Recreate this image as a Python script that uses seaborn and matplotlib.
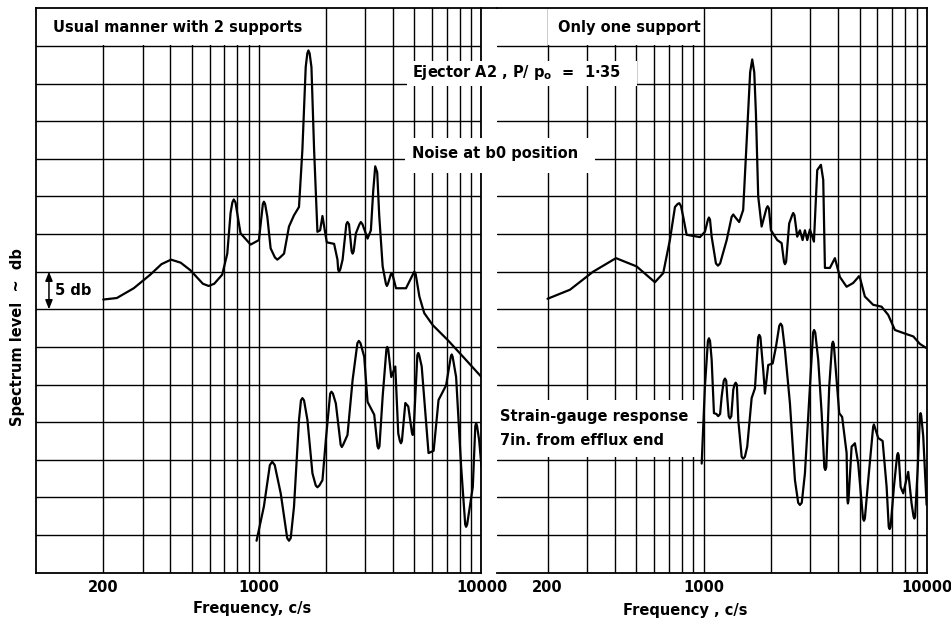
import matplotlib
matplotlib.use("Agg")
import matplotlib.pyplot as plt
from matplotlib.patches import Rectangle
from matplotlib.lines import Line2D
from matplotlib.ticker import NullFormatter
import pandas as pd
import seaborn as sns

# ---------------------------------------------------------------- data
# Usual manner with 2 supports: noise spectrum at b0 position
noise_two_freq = [200, 230, 274, 325, 365, 403, 445, 492, 560, 595, 630, 684, 721, 746,
                  760, 771, 785, 804, 827, 918, 1000, 1042, 1053, 1066, 1091, 1129, 1180,
                  1210, 1245, 1297, 1365, 1438, 1514, 1568, 1623, 1650, 1669, 1690, 1722,
                  1770, 1832, 1884, 1930, 1977, 2018, 2177, 2254, 2270, 2291, 2320, 2377,
                  2470, 2500, 2540, 2610, 2636, 2665, 2727, 2830, 2871, 2920, 3077, 3185,
                  3262, 3331, 3400, 3471, 3597, 3720, 3758, 3800, 3910, 3945, 3985, 4130,
                  4580, 4930, 4990, 5060, 5260, 5530, 6040, 7060, 8380, 10000]
noise_two_db = [36.3, 36.5, 37.8, 39.6, 41.0, 41.6, 41.2, 40.2, 38.4, 38.1, 38.4, 39.6, 42.4, 47.8,
                49.2, 49.6, 49.2, 47.3, 45.1, 43.6, 44.2, 49.0, 49.3, 49.0, 47.3, 43.1, 41.9,
                41.6, 41.9, 42.4, 46.0, 47.5, 48.6, 56.2, 67.2, 69.0, 69.4, 69.0, 67.2,
                56.2, 45.3, 45.5, 47.4, 45.5, 43.9, 43.7, 41.6, 40.3, 40.0, 40.3, 41.6,
                46.3, 46.6, 46.3, 42.7, 42.4, 42.7, 45.1, 46.3, 46.6, 46.3, 44.4, 45.5,
                50.7, 54.0, 53.2, 47.5, 40.7, 38.4, 38.1, 38.4, 39.6, 39.8, 39.6, 37.8,
                37.8, 39.7, 40.0, 39.7, 36.7, 34.5, 32.9, 30.9, 28.5, 26.0]

# Usual manner with 2 supports: strain-gauge response
strain_two_freq = [976, 1053, 1120, 1148, 1178, 1253, 1340, 1365, 1390, 1438, 1514, 1545,
                   1568, 1595, 1652, 1740, 1800, 1832, 1870, 1930, 1998, 2090, 2118, 2150,
                   2216, 2330, 2358, 2390, 2500, 2636, 2770, 2812, 2860, 2972, 3077, 3296,
                   3410, 3443, 3480, 3597, 3740, 3773, 3810, 3933, 4099, 4227, 4300, 4346,
                   4390, 4548, 4688, 4870, 4909, 4950, 5150, 5198, 5250, 5387, 5781, 6095,
                   6412, 6934, 7280, 7345, 7420, 7690, 8100, 8450, 8530, 8620, 9140, 9380,
                   9460, 9550, 9760, 10000]
strain_two_db = [4.25, 8.8, 14.3, 14.75, 14.3, 10.55, 4.6, 4.25, 4.6, 8.8, 20.3, 22.9,
                 23.2, 22.9, 20.3, 13.2, 11.6, 11.35, 11.6, 12.3, 17.6, 23.8, 24.05, 23.8,
                 22.5, 17.0, 16.7, 17.0, 18.3, 25.6, 30.5, 30.8, 30.5, 28.7, 22.7, 21.0,
                 16.8, 16.5, 16.8, 23.4, 29.7, 30.0, 29.7, 26.0, 27.4, 18.5, 17.5, 17.2,
                 17.5, 22.55, 22.1, 18.6, 18.3, 18.6, 28.9, 29.2, 28.9, 27.4, 15.9, 16.2,
                 22.95, 24.9, 28.7, 29.0, 28.7, 26.0, 14.1, 6.4, 6.1, 6.4, 11.4, 19.5,
                 19.85, 19.5, 17.6, 14.05]

# Only one support: noise spectrum at b0 position
noise_one_freq = [200, 252, 320, 405, 501, 605, 659, 706, 744, 765, 778, 792, 810, 839,
                  963, 1013, 1045, 1056, 1068, 1086, 1135, 1159, 1185, 1268, 1335, 1357,
                  1380, 1442, 1503, 1567, 1615, 1650, 1685, 1714, 1755, 1818, 1910, 1934,
                  1960, 2001, 2136, 2234, 2290, 2312, 2340, 2415, 2490, 2518, 2550, 2624,
                  2698, 2773, 2841, 2909, 2991, 3117, 3225, 3350, 3431, 3491, 3675, 3870,
                  4074, 4365, 4672, 4900, 4955, 5010, 5270, 5740, 6260, 6705, 7183, 8100,
                  8680, 9295, 10000]
noise_one_db = [36.4, 37.6, 40.0, 41.8, 40.7, 38.6, 39.8, 44.2, 48.6, 49.0, 49.1, 48.7, 47.3, 44.9,
                44.6, 45.3, 46.9, 47.2, 46.9, 44.65, 41.1, 40.8, 41.1, 44.2, 47.3, 47.6,
                47.3, 46.6, 48.2, 58.8, 66.5, 68.2, 66.5, 61.05, 50.0, 46.0, 48.4, 48.7,
                48.4, 45.5, 44.2, 43.8, 41.3, 41.0, 41.3, 46.4, 47.5, 47.8, 47.5, 44.65,
                45.5, 44.2, 45.5, 44.2, 45.6, 44.0, 53.5, 54.2, 52.2, 40.5, 40.5, 41.8,
                39.3, 38.0, 38.5, 39.2, 39.4, 39.2, 36.7, 35.6, 35.35, 34.25, 32.25, 31.7,
                31.4, 30.4, 29.8]

# Only one support: strain-gauge response 7 in. from efflux end
strain_one_freq = [980, 1013, 1045, 1056, 1068, 1086, 1112, 1140, 1162, 1185, 1204, 1230,
                   1246, 1262, 1275, 1295, 1311, 1330, 1357, 1375, 1391, 1408, 1429, 1480,
                   1504, 1530, 1567, 1640, 1697, 1755, 1774, 1795, 1849, 1881, 1946, 2037,
                   2107, 2180, 2212, 2245, 2312, 2434, 2563, 2650, 2698, 2750, 2841, 2991,
                   3090, 3123, 3160, 3258, 3375, 3470, 3503, 3540, 3649, 3760, 3792, 3825,
                   3938, 4046, 4169, 4366, 4405, 4425, 4450, 4597, 4756, 4920, 5170, 5219,
                   5270, 5456, 5740, 5786, 5830, 6047, 6329, 6595, 6740, 6803, 6870, 7110,
                   7350, 7410, 7470, 7620, 7826, 8240, 8530, 8700, 8780, 8850, 9080, 9300,
                   9360, 9420, 9620, 9960]
strain_one_db = [14.5, 24.7, 30.8, 31.15, 30.8, 28.3, 21.2, 21.1, 20.8, 21.1, 23.4, 25.5,
                 25.8, 25.5, 23.4, 20.8, 20.5, 20.8, 24.3, 25.0, 25.25, 25.0, 20.3, 15.4,
                 15.15, 15.4, 16.75, 23.2, 24.5, 31.3, 31.6, 31.3, 26.9, 23.8, 27.6, 27.8,
                 30.0, 32.8, 33.1, 32.8, 29.6, 22.5, 12.3, 9.3, 9.0, 9.3, 13.2, 24.7,
                 31.9, 32.25, 31.9, 28.3, 21.2, 14.0, 13.65, 14.0, 24.7, 30.4, 30.7, 30.4,
                 25.6, 21.2, 20.7, 15.9, 9.6, 9.2, 9.6, 16.75, 17.2, 14.5, 7.2, 6.9,
                 7.2, 12.3, 19.4, 19.7, 19.4, 17.9, 17.5, 11.4, 6.1, 5.8, 6.1, 11.4,
                 15.6, 15.9, 15.6, 11.4, 10.55, 13.4, 9.2, 7.5, 7.2, 7.5, 13.65, 20.9,
                 21.2, 20.9, 18.1, 9.0]

# axis furniture
tick_freqs = [200, 1000, 10000]
tick_labels = ["200", "1000", "10000"]
grid_freqs = [300, 400, 500, 600, 700, 800, 900,
              2000, 3000, 4000, 5000, 6000, 7000, 8000, 9000]
level_lines = list(range(5, 75, 5))

# ---------------------------------------------------------------- style
sns.set_theme(style="white")
plt.rcParams["font.family"] = ["DejaVu Sans"]
plt.rcParams["font.weight"] = "bold"
plt.rcParams["mathtext.fontset"] = "dejavusans"

W, H = 951, 623
INK = "black"
FS = 10.5

fig = plt.figure(figsize=(W / 100, H / 100), dpi=100)


def px_box(x0, y0, x1, y1):
    """Rectangle given in figure pixels (origin top-left) -> figure fraction."""
    return [x0 / W, 1 - y1 / H, (x1 - x0) / W, (y1 - y0) / H]


def px(x, y):
    return x / W, 1 - y / H


ax_l = fig.add_axes(px_box(36.3, 8.3, 481.5, 572.7))
ax_r = fig.add_axes(px_box(497.5, 8.3, 927.0, 572.7))


def style_panel(ax, xmin):
    ax.set_xscale("log")
    ax.set_xlim(xmin, 10000)
    ax.set_ylim(0, 75)
    ax.set_xticks(tick_freqs)
    ax.set_xticklabels(tick_labels)
    ax.set_xticks(grid_freqs, minor=True)
    ax.xaxis.set_minor_formatter(NullFormatter())
    ax.set_yticks(level_lines)
    ax.set_yticklabels([])
    ax.tick_params(which="both", length=0, labelsize=FS, pad=5, colors=INK)
    ax.grid(True, which="both", axis="both", color=INK, lw=1.0)
    ax.set_axisbelow(True)
    for s in ax.spines.values():
        s.set_color(INK)
        s.set_linewidth(1.3)
    ax.set_facecolor("white")


style_panel(ax_l, 100)
style_panel(ax_r, 119.4)
ax_r.spines["left"].set_visible(False)

curves = [
    (ax_l, noise_two_freq, noise_two_db),
    (ax_l, strain_two_freq, strain_two_db),
    (ax_r, noise_one_freq, noise_one_db),
    (ax_r, strain_one_freq, strain_one_db),
]
for ax, f, db in curves:
    df = pd.DataFrame({"freq": f, "level": db})
    sns.lineplot(data=df, x="freq", y="level", ax=ax, color=INK, lw=1.6,
                 estimator=None, sort=False, solid_joinstyle="round")
    ax.set_xlabel("")
    ax.set_ylabel("")

# white label panels in the top row of each chart
ax_l.add_patch(Rectangle((100, 70.15), 1985 - 100, 5, facecolor="white",
                         edgecolor="none", zorder=1))
ax_l.text(118.9, 72.5, "Usual manner with 2 supports", fontsize=FS,
          va="center", ha="left", color=INK, zorder=3)
ax_r.add_patch(Rectangle((201, 70.15), 985 - 201, 5, facecolor="white",
                         edgecolor="none", zorder=1))
ax_r.text(222.7, 72.5, "Only one support", fontsize=FS,
          va="center", ha="left", color=INK, zorder=3)

# strain-gauge caption on the right chart
ax_r.add_patch(Rectangle((119.4, 15.4), 933 - 119.4, 7.6, facecolor="white",
                         edgecolor="none", zorder=1))
ax_r.text(122.5, 20.8, "Strain-gauge response", fontsize=FS, va="center",
          ha="left", color=INK, zorder=3)
ax_r.text(122.5, 17.6, "7in. from efflux end", fontsize=FS, va="center",
          ha="left", color=INK, zorder=3)

# 5 db scale marker
ax_l.annotate("", xy=(114, 35), xytext=(114, 40),
              arrowprops=dict(arrowstyle="<|-|>,head_length=0.45,head_width=0.18",
                              color=INK, lw=1.1, shrinkA=0, shrinkB=0))
ax_l.text(121, 37.5, "5 db", fontsize=FS, va="center", ha="left", color=INK)

# captions spanning both charts
for box in [(407, 61, 637, 86), (405, 138, 595, 173)]:
    fig.add_artist(Rectangle(px(box[0], box[3]), (box[2] - box[0]) / W,
                             (box[3] - box[1]) / H, transform=fig.transFigure,
                             facecolor="white", edgecolor="none", zorder=2))
fig.text(*px(411.5, 72), r"Ejector A2 , P/ $\mathbf{p_o}$  =  1·35", fontsize=FS,
         va="center", ha="left", color=INK, zorder=3)
fig.text(*px(411.5, 153.5), "Noise at b0 position", fontsize=FS,
         va="center", ha="left", color=INK, zorder=3)

# top frame line bridging the gap between the charts
fig.add_artist(Line2D([481.5 / W, 497.5 / W], [1 - 8.3 / H] * 2, color=INK,
                      lw=1.3, transform=fig.transFigure))

# axis titles
fig.text(*px(18, 337), "Spectrum level  ~  db", rotation=90, fontsize=FS,
         ha="center", va="center", color=INK)
fig.text(*px(252, 608), "Frequency, c/s", fontsize=FS, ha="center",
         va="center", color=INK)
fig.text(*px(685, 611), "Frequency , c/s", fontsize=FS, ha="center",
         va="center", color=INK)

fig.savefig("out.png", dpi=100, facecolor="white")
